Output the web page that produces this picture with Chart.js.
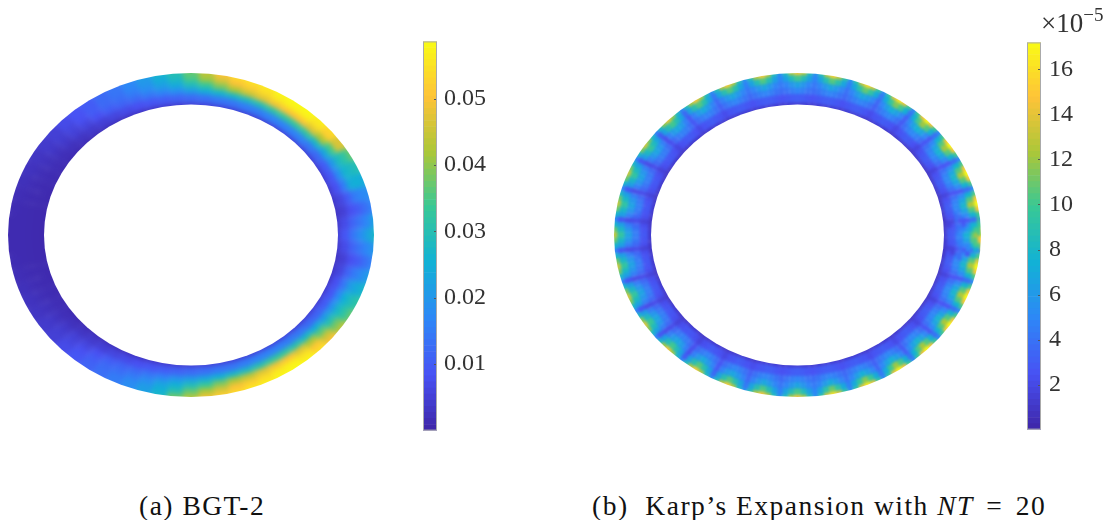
<!DOCTYPE html>
<html>
<head>
<meta charset="utf-8">
<script src="https://cdn.jsdelivr.net/npm/chart.js@4"></script>
<style>
html,body{margin:0;padding:0;background:#fff;}
body{width:1111px;height:520px;position:relative;overflow:hidden;font-family:"Liberation Serif",serif;color:#111;}
canvas{position:absolute;}
.cap{position:absolute;white-space:nowrap;font-size:27.5px;letter-spacing:1.5px;line-height:30px;}
.eq{margin:0 4px;}
.mult{position:absolute;white-space:nowrap;font-size:27px;color:#333;line-height:30px;}
.mult sup{font-size:19px;line-height:0;position:relative;vertical-align:baseline;top:-11px;}
</style>
</head>
<body>
<canvas id="ringA" style="left:0;top:50px;width:400px;height:370px"></canvas>
<canvas id="barA" style="left:423px;top:20px;width:80px;height:432px"></canvas>
<canvas id="ringB" style="left:600px;top:50px;width:400px;height:370px"></canvas>
<canvas id="barB" style="left:1027px;top:20px;width:80px;height:432px"></canvas>
<div class="mult" style="left:1041px;top:8px">×10<sup>−5</sup></div>
<div class="cap" style="left:139px;top:491px">(a) BGT-2</div>
<div class="cap" style="left:592px;top:491px">(b)&nbsp; Karp’s Expansion with <i>NT</i> <span class="eq">=</span> 20</div>
<script>
// ================= DATA =================
// radial position across the ring, 0 = inner edge, 1 = outer edge
let levels = [0,0.2,0.4,0.6,0.8,1]

// left ring, values x 1e-3, one column every 5 degrees from the right side going counter clockwise
let anglesA = []
for(let i=0;i<72;i++) anglesA.push(i*5)

let valuesA0 = [5,4,3,3.5,4,4.5,4.5,5,5,5.5,5.5,5.5,5,5,5,5,5,5,4.5,4,3.5,3,2.5,2.5,2,2,1.5,1.2,1,1,.9,.8,.7,.7,.6,.6,.6,.6,.6,.7,.7,.8,.9,1,1,1.2,1.5,2,2,2.5,2.5,3,3.5,4,4.5,5,5,5,5,5,5.5,5.5,5.5,5,5,5,4.5,4,3.5,3.5,3,4]
let valuesA1 = [9,7,5,6,8,9,10,12,14,16,16,16,16,15,15,14,14,13,12,11,10,9,8,7,6,5,4,3,2.2,1.8,1.5,1.2,1,.9,.8,.8,.8,.8,.8,.9,1,1.2,1.5,1.8,2.2,3,4,5,6,7,8,9,10,11,12,13,14,14,15,16,16,16,15,14,12,11,10,9,8,6,5,7]
let valuesA2 = [14,11,8,10,15,18,20,23,27,31,32,32,31,29,28,27,26,24,21,18,16,14,12,11,10,8,6,5,3.5,2.5,2,1.5,1.2,1,.9,.9,.9,.9,.9,1,1.2,1.5,2,2.5,3.5,5,6,8,10,11,12,14,16,19,21,23,25,27,28,30,32,32,30,27,24,21,19,17,14,11,8,11]
let valuesA3 = [18,14,10,15,24,26,28,34,42,47,50,50,49,47,45,42,38,33,29,24,21,18,15,13,12,10,8,6,4.5,3.5,2.5,2,1.5,1.2,1,1,1,1,1,1.2,1.5,2,2.5,3.5,4.5,6,8,10,12,13,15,18,22,25,29,33,38,42,44,47,49,50,47,42,36,30,27,25,21,15,10,14]
let valuesA4 = [22,17,13,17,25,28,32,46,52,55,57,57,56,54,52,50,46,41,35,28,24,20,17,14,12.5,10,8.5,7,5,4,3,2.5,2,1.5,1.2,1,1,1,1.2,1.5,2,2.5,3,4,5,7,9,11,13,15,18,21,25,30,37,42,46,50,52,54,56,57,55,51,45,38,32,29,24,18,13,17]
let valuesA5 = [27,22,16,18,24,30,37,47,54,57,58.6,58.6,58,56,55,54,50,44,37,30,26,21,17,14,12,10,8.5,7,5,4,3,2.5,2,1.5,1.2,1,1,1,1.2,1.5,2,2.5,3,4,5,7,9,11,13,15,18,22,27,38,44,49,52,54,56,57,58,58.6,58,55,50,44,37,32,27,21,16,20]

// right ring, values x 1e-5, 32 teeth with 6 columns each: peak, two shoulders, crease, two shoulders
let anglesB = []
for(let i=0;i<192;i++) anglesB.push(i*1.875)

let valuesB0 = [
1.3,1.2,1.1,.9,1.1,1.2, 1.3,1.2,1.1,.9,1.1,1.2, 1.3,1.2,1.1,.9,1.1,1.2, 1.3,1.2,1.1,.9,1.1,1.2,
1.3,1.2,1.2,1,1.2,1.2, 1.3,1.3,1.2,1,1.2,1.3, 1.4,1.3,1.3,1.1,1.3,1.3, 1.4,1.3,1.3,1.1,1.3,1.3,
1.4,1.3,1.3,1.1,1.3,1.3, 1.4,1.3,1.3,1.1,1.3,1.3, 1.3,1.3,1.2,1,1.2,1.3, 1.3,1.2,1.2,1,1.2,1.2,
1.2,1.2,1,.9,1,1.2, 1.2,1.2,1,.9,1,1.2, 1.2,1.2,1,.9,1,1.2, 1.2,1.2,1,.9,1,1.2,
1.2,1.2,1,.9,1,1.2, 1.2,1.2,1,.9,1,1.2, 1.2,1.2,1,.9,1,1.2, 1.2,1.2,1,.9,1,1.2,
1.2,1.2,1,.9,1,1.2, 1.2,1.2,1,.9,1,1.2, 1.3,1.2,1.2,1,1.2,1.3, 1.4,1.3,1.3,1.1,1.3,1.3,
1.4,1.3,1.3,1.1,1.3,1.3, 1.4,1.3,1.3,1.1,1.3,1.3, 1.3,1.3,1.2,1,1.2,1.3, 1.3,1.2,1.2,1,1.2,1.2,
1.3,1.2,1.1,.9,1.1,1.2, 1.3,1.2,1.1,.9,1.1,1.2, 1.3,1.2,1.1,.9,1.1,1.2, 1.3,1.2,1.1,.9,1.1,1.2]
let valuesB1 = [
3,2.8,2.4,1.7,2.4,2.8, 3,2.8,2.4,1.7,2.4,2.8, 3,2.8,2.4,1.7,2.4,2.8, 3,2.8,2.4,1.8,2.4,2.8,
3,2.8,2.5,2,2.5,2.8, 3,2.8,2.6,2.2,2.6,2.9, 3,2.9,2.7,2.4,2.7,2.9, 3,2.9,2.7,2.5,2.7,2.9,
3,2.9,2.7,2.5,2.7,2.9, 3,2.9,2.7,2.4,2.7,2.9, 3,2.8,2.6,2.2,2.6,2.8, 3,2.8,2.5,2,2.5,2.8,
2.9,2.7,2.4,1.8,2.4,2.7, 2.8,2.6,2.3,1.6,2.3,2.6, 2.8,2.6,2.3,1.6,2.3,2.6, 2.8,2.6,2.3,1.6,2.3,2.6,
2.8,2.6,2.3,1.6,2.3,2.6, 2.8,2.6,2.3,1.6,2.3,2.6, 2.8,2.6,2.3,1.6,2.3,2.6, 2.8,2.6,2.3,1.6,2.3,2.6,
2.8,2.6,2.3,1.7,2.3,2.6, 2.9,2.7,2.4,1.9,2.4,2.7, 3,2.8,2.5,2.2,2.5,2.8, 3,2.9,2.6,2.4,2.6,2.9,
3,2.9,2.7,2.5,2.7,2.9, 3,2.9,2.7,2.4,2.7,2.9, 3,2.8,2.6,2.2,2.6,2.8, 3,2.8,2.5,2,2.5,2.8,
3,2.8,2.4,1.8,2.4,2.8, 3,2.8,2.4,1.7,2.4,2.8, 3,2.8,2.4,1.7,2.4,2.8, 3,2.8,2.4,1.7,2.4,2.8]
let valuesB2 = [
5,4.6,3.8,2.5,3.8,4.6, 5.1,4.7,3.8,2.5,3.8,4.7, 5.1,4.7,3.8,2.5,3.8,4.7, 5,4.6,3.8,2.6,3.8,4.6,
5,4.6,3.8,2.8,3.8,4.6, 4.9,4.5,3.9,3.1,3.9,4.5, 4.8,4.5,4,3.5,4,4.5, 4.8,4.5,4,3.7,4,4.5,
4.8,4.5,4,3.7,4,4.5, 4.8,4.5,4,3.5,4,4.5, 4.8,4.5,3.9,3.1,3.9,4.5, 4.7,4.4,3.8,2.7,3.8,4.4,
4.6,4.3,3.6,2.3,3.6,4.3, 4.5,4.2,3.5,2.1,3.5,4.2, 4.5,4.2,3.5,2.1,3.5,4.2, 4.5,4.2,3.5,2.1,3.5,4.2,
4.5,4.2,3.5,2.1,3.5,4.2, 4.5,4.2,3.5,2.1,3.5,4.2, 4.5,4.2,3.5,2.1,3.5,4.2, 4.5,4.2,3.5,2.1,3.5,4.2,
4.6,4.3,3.6,2.3,3.6,4.3, 4.7,4.4,3.7,2.6,3.7,4.4, 4.8,4.5,3.9,3.1,3.9,4.5, 4.8,4.5,4,3.5,4,4.5,
4.8,4.5,4,3.7,4,4.5, 4.8,4.5,4,3.5,4,4.5, 4.9,4.5,3.9,3.1,3.9,4.5, 5,4.6,3.8,2.8,3.8,4.6,
5,4.6,3.8,2.6,3.8,4.6, 5,4.6,3.8,2.5,3.8,4.7, 5.1,4.7,3.8,2.5,3.8,4.7, 5.1,4.7,3.8,2.5,3.8,4.6]
let valuesB3 = [
7.5,6.5,5,2.6,5,6.5, 7.8,6.7,5.1,2.6,5.1,6.7, 7.8,6.7,5.1,2.6,5.1,6.7, 7.6,6.6,5,2.7,5,6.6,
7.5,6.5,5,3,5,6.4, 7.2,6.2,4.9,3.4,4.9,6.1, 6.8,6,4.8,3.9,4.8,5.9, 6.6,5.8,4.8,4.2,4.8,5.8,
6.5,5.8,4.8,4.3,4.8,5.8, 6.6,5.8,4.8,4.1,4.8,5.9, 6.7,5.9,4.7,3.5,4.7,6, 6.9,6,4.6,2.8,4.6,6,
6.8,6,4.6,2.2,4.6,5.9, 6.6,5.9,4.5,2,4.5,5.8, 6.5,5.8,4.5,2,4.5,5.8, 6.5,5.8,4.5,2,4.5,5.8,
6.5,5.8,4.5,2,4.5,5.8, 6.5,5.8,4.5,2,4.5,5.8, 6.6,5.8,4.5,2,4.5,5.9, 6.7,5.9,4.5,2.1,4.5,6,
6.8,6,4.6,2.2,4.6,6, 6.9,6,4.7,2.8,4.7,6, 6.7,5.9,4.7,3.5,4.7,5.9, 6.7,5.9,4.8,4.1,4.8,5.8,
6.6,5.8,4.8,4.3,4.8,6, 7,6.1,4.8,3.9,4.8,6.2, 7.3,6.3,4.9,3.4,4.9,6.4, 7.5,6.4,5,3,5,6.5,
7.6,6.5,5,2.7,5,6.6, 7.7,6.6,5,2.6,5,6.7, 7.8,6.7,5.1,2.6,5.1,6.7, 7.8,6.7,5.1,2.6,5,6.6]
let valuesB4 = [
12,10.2,7.5,3.7,7.5,10.2, 12.5,10.5,7.6,3.7,7.6,10.5, 12.5,10.5,7.6,3.7,7.6,10.5, 12.2,10.4,7.5,3.8,7.5,10.4,
12,10.2,7.4,4,7.4,10, 11.4,9.6,7.1,4.2,7.1,9.4, 10.8,9.1,6.8,4.6,6.8,9, 10.4,8.8,6.6,4.8,6.6,8.7,
10,8.5,6.5,4.9,6.5,8.7, 10.3,8.7,6.6,4.7,6.6,8.9, 10.4,8.8,6.7,4.2,6.7,8.9, 10.4,8.8,6.6,3.5,6.6,8.7,
10,8.5,6.5,2.8,6.5,8.3, 9.6,8.1,6.3,2.6,6.3,8.1, 9.5,8,6.3,2.5,6.3,8, 9.4,8,6.3,2.5,6.3,8,
9.4,8,6.3,2.5,6.3,8, 9.5,8,6.3,2.5,6.3,8.1, 9.6,8.1,6.3,2.5,6.3,8.2, 9.8,8.3,6.4,2.6,6.4,8.4,
10,8.5,6.5,2.8,6.5,8.7, 10.4,8.8,6.6,3.5,6.6,8.8, 10.4,8.8,6.7,4.2,6.7,8.8, 10.3,8.7,6.6,4.7,6.6,8.7,
10.1,8.6,6.5,4.9,6.7,9.2, 11,9.3,6.9,4.6,6.9,9.5, 11.5,9.7,7.1,4.2,7.1,9.9, 12,10.1,7.4,4,7.4,10.2,
12.2,10.3,7.5,3.8,7.5,10.4, 12.3,10.4,7.5,3.7,7.5,10.5, 12.5,10.5,7.6,3.7,7.6,10.5, 12.5,10.5,7.6,3.7,7.5,10.3]
let valuesB5 = [
16.8,14.5,10,5,10,14.8, 17.2,15,10.2,5,10.2,15, 17.2,15,10.2,5,10.2,15, 17.2,15,10,5,10,14.6,
17,14.6,10,5,10,14.2, 16.2,14,9.6,5.2,9.6,13.6, 15.8,13.4,9.2,5.4,9.2,13, 15.3,13,8.8,5.4,8.8,12.6,
14.5,12.5,8.5,5.4,8.6,12.8, 15,12.8,8.7,5.4,8.8,12.8, 15,12.8,8.7,5.2,8.7,12.6, 14.7,12.5,8.5,5,8.4,12,
14,11.8,8.2,4.8,8.2,11.5, 13.5,11.4,8,4.7,8,11.2, 13.2,11.1,7.9,4.6,7.9,11, 13,11,7.8,4.6,7.8,11,
13,11,7.8,4.6,7.8,11.1, 13.2,11.2,7.9,4.6,7.9,11.4, 13.6,11.5,8,4.7,8,11.6, 14,11.8,8.2,4.8,8.2,12.2,
14.5,12.4,8.4,5,8.6,12.8, 15,12.8,8.7,5.2,8.7,12.8, 15,12.8,8.7,5.4,8.7,12.7, 14.8,12.7,8.6,5.4,8.6,12.6,
14.6,12.6,8.6,5.4,9,13.6, 16,13.8,9.4,5.3,9.4,14.1, 16.5,14.2,9.6,5.2,9.6,14.4, 17,14.6,9.9,5,9.9,14.7,
17.2,14.8,10,5,10,15, 17.2,15,10.2,5,10.2,15, 17.2,15,10.2,5,10.2,15, 17.2,15,10.2,5,10.2,14.7]

let valuesA = [valuesA0,valuesA1,valuesA2,valuesA3,valuesA4,valuesA5]
let valuesB = [valuesB0,valuesB1,valuesB2,valuesB3,valuesB4,valuesB5]

// colour bar ranges and ticks
let maxA = 58.6
let maxB = 17.2
let ticksA = [10,20,30,40,50]
let ticksB = [2,4,6,8,10,12,14,16]

// parula(8)
let parula = [
[62,38,168],[72,82,244],[46,135,247],[18,177,214],
[55,200,151],[171,199,57],[254,195,56],[249,251,21]
]

// ring shape in chart units
let outerA = [1.83,1.62], innerA = [1.47,1.305]
let outerB = [1.835,1.62], innerB = [1.465,1.305]

// ================= COLOUR =================
function colorFor(t){
t = Math.max(0,Math.min(1,t))*(parula.length-1)
let i = Math.min(Math.floor(t),parula.length-2)
let f = t-i
let c = parula[i].map((v,k)=>Math.round(v+(parula[i+1][k]-v)*f))
return `rgb(${c[0]},${c[1]},${c[2]})`
}

// ================= RING =================
// blur the strips into a smooth field then keep only the ring
function ringPlugin(outer,inner,blur){
return {
id:"ringShade",
afterDatasetsDraw(chart){
let c = chart.canvas, ctx = chart.ctx
let copy = document.createElement("canvas")
copy.width = c.width
copy.height = c.height
copy.getContext("2d").drawImage(c,0,0)
let sx = chart.scales.x, sy = chart.scales.y
let r = chart.currentDevicePixelRatio
let cx = sx.getPixelForValue(0)*r, cy = sy.getPixelForValue(0)*r
let ell = (a)=>{
ctx.beginPath()
ctx.ellipse(cx,cy,Math.abs(sx.getPixelForValue(a[0])*r-cx),Math.abs(sy.getPixelForValue(a[1])*r-cy),0,0,Math.PI*2)
ctx.fill()
}
ctx.save()
ctx.setTransform(1,0,0,1,0,0)
ctx.clearRect(0,0,c.width,c.height)
ctx.filter = `blur(${blur*r}px)`
ctx.drawImage(copy,0,0)
ctx.filter = "none"
ctx.fillStyle = "#000"
ctx.globalCompositeOperation = "destination-in"
ell(outer)
ctx.globalCompositeOperation = "destination-out"
ell(inner)
ctx.restore()
}
}
}

function drawRing(id,angles,values,max,outer,inner,xMin,xMax,blur){
let datasets = levels.map((t,j)=>{
let ax = inner[0]+(outer[0]-inner[0])*t
let ay = inner[1]+(outer[1]-inner[1])*t
let pts = angles.map(a=>({x:ax*Math.cos((a-360/angles.length/2)*Math.PI/180),y:ay*Math.sin((a-360/angles.length/2)*Math.PI/180)}))
pts.push(pts[0])
let edge = j===0||j===levels.length-1
return {
data:pts,
showLine:true,
pointRadius:0,
borderWidth:edge?18:8.5,
borderColor:"#3e26a8",
order:edge?1:0,
clip:false,
segment:{borderColor:ctx=>colorFor(values[j][ctx.p0DataIndex]/max)}
}
})
new Chart(document.getElementById(id),{
type:"scatter",
data:{datasets},
options:{
responsive:false,
animation:false,
events:[],
layout:{padding:0},
plugins:{legend:{display:false},tooltip:{enabled:false}},
scales:{
x:{type:"linear",display:false,min:xMin,max:xMax},
y:{type:"linear",display:false,min:-1.85,max:1.85}
}
},
plugins:[ringPlugin(outer,inner,blur)]
})
}

// ================= COLOUR BAR =================
function drawBar(id,max,ticks,fmt,pad){
let datasets = []
for(let i=0;i<64;i++){
datasets.push({
data:[[max*i/64,max*(i+1)/64]],
backgroundColor:colorFor((i+0.5)/64),
grouped:false,
barPercentage:1,
categoryPercentage:1,
borderWidth:0
})
}
new Chart(document.getElementById(id),{
type:"bar",
data:{labels:[""],datasets},
options:{
responsive:false,
animation:false,
events:[],
layout:{autoPadding:false,padding:0},
plugins:{legend:{display:false},tooltip:{enabled:false}},
scales:{
x:{display:false},
y:{
position:"right",
min:0,
max:max,
grid:{display:false,tickLength:0},
border:{display:false},
afterBuildTicks:s=>{s.ticks = ticks.map(v=>({value:v}))},
afterFit:s=>{s.width = 66},
ticks:{
autoSkip:false,
padding:pad,
color:"#333",
font:{family:"Liberation Serif",size:24},
callback:fmt
}
}
}
},
plugins:[{
id:"barFrame",
afterDraw(chart){
let a = chart.chartArea, ctx = chart.ctx, s = chart.scales.y
ctx.save()
ctx.strokeStyle = "#555"
ctx.lineWidth = 1
ticks.forEach(v=>{
let y = Math.round(s.getPixelForValue(v))+0.5
ctx.beginPath()
ctx.moveTo(a.right-3,y)
ctx.lineTo(a.right,y)
ctx.stroke()
})
ctx.strokeStyle = "#aaa"
ctx.strokeRect(a.left+0.5,a.top+0.5,a.right-a.left-1,a.bottom-a.top-1)
ctx.restore()
}
}]
})
}

// ================= MAIN =================
function setSize(id,w,h){
let c = document.getElementById(id)
c.width = w
c.height = h
}
setSize("ringA",400,370)
setSize("ringB",400,370)
setSize("barA",80,432)
setSize("barB",80,432)

drawRing("ringA",anglesA,valuesA,maxA,outerA,innerA,-1.91,2.09,2.6)
drawRing("ringB",anglesB,valuesB,maxB,outerB,innerB,-1.975,2.025,1.4)
drawBar("barA",maxA,ticksA,v=>(v/1000).toFixed(2),7)
drawBar("barB",maxB,ticksB,v=>String(v),8)
</script>
</body>
</html>
